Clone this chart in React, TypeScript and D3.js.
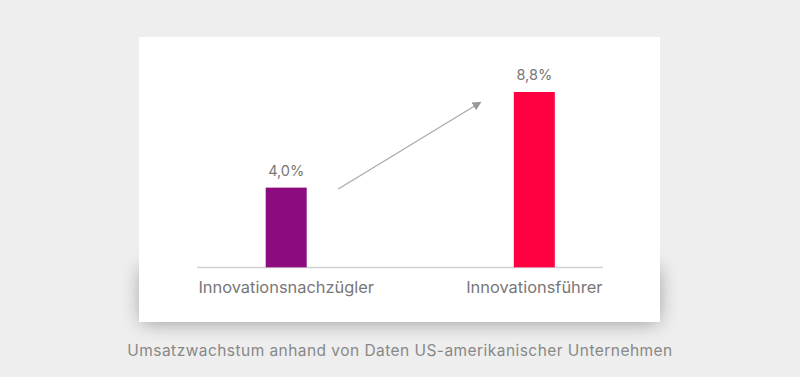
import React from "react";
import * as d3 from "d3";

const categories = ["Innovationsnachzügler", "Innovationsführer"];
const values = [4.0, 8.8];
const valueLabels = ["4,0%", "8,8%"];
const barColors = ["#8c0c80", "#ff0040"];
const caption = "Umsatzwachstum anhand von Daten US-amerikanischer Unternehmen";

const W = 800;
const H = 377;

export default function App() {
  const x = d3.scalePoint<string>().domain(categories).range([286.2, 534.3]);
  const y = d3.scaleLinear().domain([0, 8.8]).range([267.3, 92]);
  const barW = 41;
  const font = "Inter, 'Noto Sans', sans-serif";

  return (
    <svg
      width={W}
      height={H}
      style={{ position: "absolute", left: 0, top: 0, display: "block" }}
    >
      <defs>
        <filter id="sh" x="-20%" y="-60%" width="140%" height="220%">
          <feGaussianBlur stdDeviation="10" />
        </filter>
        <marker
          id="arr"
          viewBox="0 0 10 10"
          refX="9"
          refY="5"
          markerWidth="9"
          markerHeight="9"
          markerUnits="userSpaceOnUse"
          orient="auto"
        >
          <path d="M0,0 L10,5 L0,10 Z" fill="#999" />
        </marker>
      </defs>
      <rect x={0} y={0} width={W} height={H} fill="#eeeeee" />
      <rect
        x={142}
        y={268}
        width={516}
        height={54}
        fill="#000"
        opacity={0.38}
        filter="url(#sh)"
      />
      <rect x={139} y={37} width={521} height={285} fill="#ffffff" />
      <line x1={197} x2={603} y1={267.5} y2={267.5} stroke="#d0d0d0" strokeWidth={1.5} />
      {categories.map((c, i) => (
        <g key={c}>
          <rect
            x={(x(c) as number) - barW / 2}
            y={y(values[i])}
            width={barW}
            height={y(0) - y(values[i])}
            fill={barColors[i]}
          />
          <text
            x={x(c)}
            y={y(values[i]) - 12}
            textAnchor="middle"
            fontFamily={font}
            fontSize={14.5}
            fill="#777"
          >
            {valueLabels[i]}
          </text>
          <text
            x={x(c)}
            y={293.3}
            textAnchor="middle"
            fontFamily={font}
            fontSize={16.4}
            fill="#777"
          >
            {c}
          </text>
        </g>
      ))}
      <line
        x1={338.3}
        y1={189}
        x2={480.7}
        y2={102.3}
        stroke="#aaa"
        strokeWidth={1.3}
        markerEnd="url(#arr)"
      />
      <text
        x={400}
        y={355.5}
        textAnchor="middle"
        fontFamily={font}
        fontSize={15.5}
        letterSpacing={0.45}
        fill="#888"
      >
        {caption}
      </text>
    </svg>
  );
}
